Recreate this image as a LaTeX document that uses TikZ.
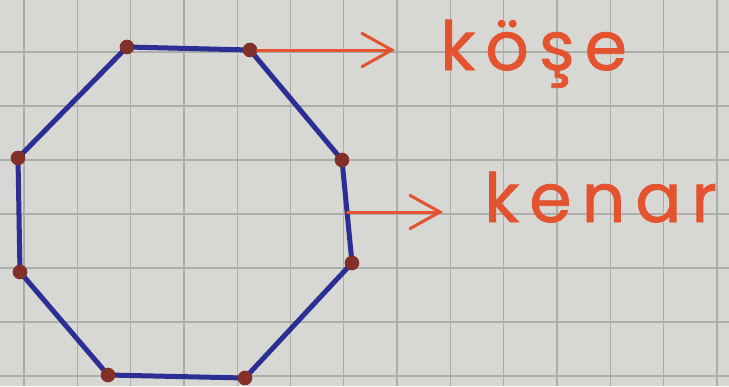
\documentclass[tikz,border=0pt]{standalone}
\usepackage{fontspec}
\newfontfamily\handfont[LetterSpace=15, FakeBold=1.2]{Poppins}
\usetikzlibrary{arrows.meta,positioning}

\definecolor{paper}{HTML}{D7D7D3}
\definecolor{gridline}{HTML}{ADADA9}
\definecolor{pen}{HTML}{2B2E92}
\definecolor{marker}{HTML}{E4532F}
\definecolor{dotc}{HTML}{82302A}

\begin{document}
\begin{tikzpicture}[
        x=0.3mm, y=-0.3mm,
        squares/.style={draw=gridline, line width=0.4mm},
        side/.style={draw=pen, line width=1.5mm, line join=round, line cap=round},
        vertex/.style={circle, fill=dotc, minimum size=4.4mm, inner sep=0pt},
        pointer/.style={draw=marker, line width=0.9mm, line cap=round,
            -{Straight Barb[length=9mm, width=10mm, line cap=round]}},
        word/.style={text=marker, font=\handfont\fontsize{58}{58}\selectfont,
            anchor=base west, inner sep=0pt}
    ]

    % paper
    \useasboundingbox (0,0) rectangle (729,386);
    \fill[paper] (0,0) rectangle (729,386);
    \foreach \gx in {0,...,13}
        \draw[squares] ({24+53.3*\gx},0) -- ++(0,386);
    \foreach \gy in {0,...,7}
        \draw[squares] (0,{-2+54*\gy}) -- ++(729,0);

    % corners of the octagon
    \coordinate (v1) at (127,47);
    \coordinate (v2) at (250,50);
    \coordinate (v3) at (342,160);
    \coordinate (v4) at (352,263);
    \coordinate (v5) at (245,378);
    \coordinate (v6) at (108,375);
    \coordinate (v7) at (20,272);
    \coordinate (v8) at (18,158);

    \draw[side] (v1) -- (v2) -- (v3) -- (v4) -- (v5) -- (v6) -- (v7) -- (v8) -- cycle;

    \foreach \v in {1,...,8}
        \node[vertex] (d\v) at (v\v) {};

    % labels
    \coordinate (kosetip) at (395,50);
    \coordinate (mid) at (347,212);
    \coordinate (kenartip) at (443,212);

    \node[word] (kose) at (440,70) {köşe};
    \node[word] (kenar) at (484,222) {kenar};

    \draw[pointer] (d2) -- (kosetip);
    \draw[pointer] (mid) -- (kenartip);

\end{tikzpicture}
\end{document}
